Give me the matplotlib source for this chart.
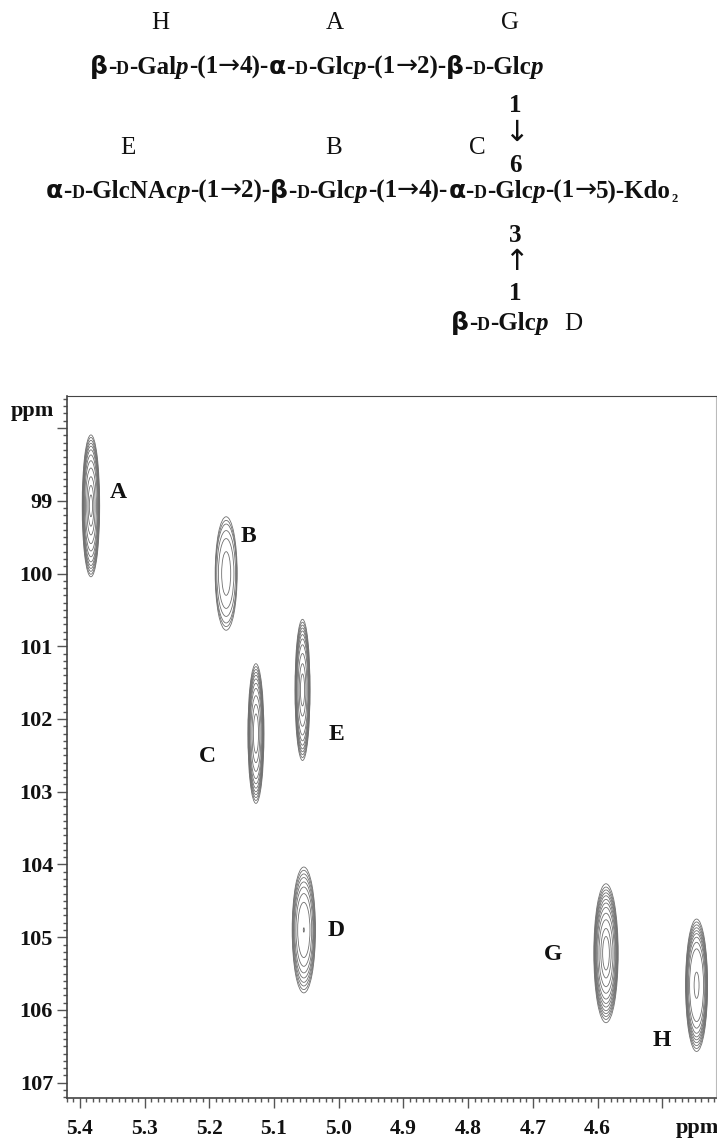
import matplotlib
matplotlib.use('Agg')
import matplotlib.pyplot as plt
from matplotlib.patches import Ellipse
from matplotlib.ticker import MultipleLocator

W, H = 717, 1140
SERIF = 'Liberation Serif'

# peak centres (1H ppm, 13C ppm)
peak_names = ['A', 'B', 'C', 'E', 'D', 'G', 'H']
peak_x = [5.383, 5.174, 5.128, 5.056, 5.054, 4.587, 4.447]
peak_y = [99.07, 100.0, 102.2, 101.6, 104.9, 105.22, 105.66]

# contour rings, half height (13C ppm) and half width (1H ppm), outer to inner
ring_h_A = [.975, .94, .90, .86, .82, .77, .70, .62, .52, .40, .28, .15]
ring_w_A = [.0135, .0131, .0127, .0123, .0119, .0114, .0108, .0100, .0085, .0065, .0045, .0025]
ring_h_B = [.78, .73, .68, .59, .48, .30]
ring_w_B = [.0170, .0165, .0160, .0145, .0120, .0070]
ring_h_C = [.96, .92, .88, .84, .80, .75, .69, .62, .52, .40, .27]
ring_w_C = [.0124, .0120, .0117, .0113, .0109, .0105, .0099, .0091, .0078, .0060, .0040]
ring_h_E = [.97, .93, .89, .85, .81, .76, .70, .62, .50, .36, .22]
ring_w_E = [.0116, .0113, .0110, .0106, .0102, .0098, .0092, .0084, .0070, .0052, .0032]
ring_h_D = [.865, .82, .77, .72, .66, .59, .50, .38, .03]
ring_w_D = [.0180, .0175, .0168, .0160, .0152, .0140, .0122, .0095, .0008]
ring_h_G = [.955, .91, .87, .83, .79, .74, .69, .63, .55, .46, .34, .23]
ring_w_G = [.0188, .0183, .0178, .0173, .0167, .0160, .0152, .0142, .0128, .0108, .0080, .0052]
ring_h_H = [.91, .87, .83, .79, .75, .71, .66, .59, .50, .18]
ring_w_H = [.0170, .0166, .0162, .0158, .0152, .0146, .0138, .0126, .0108, .0038]
ring_h = [ring_h_A, ring_h_B, ring_h_C, ring_h_E, ring_h_D, ring_h_G, ring_h_H]
ring_w = [ring_w_A, ring_w_B, ring_w_C, ring_w_E, ring_w_D, ring_w_G, ring_w_H]

x_ticks = [5.4, 5.3, 5.2, 5.1, 5.0, 4.9, 4.8, 4.7, 4.6, 4.5]
x_labels = ['5.4', '5.3', '5.2', '5.1', '5.0', '4.9', '4.8', '4.7', '4.6', '']
y_ticks = [98, 99, 100, 101, 102, 103, 104, 105, 106, 107]
y_labels = ['', '99', '100', '101', '102', '103', '104', '105', '106', '107']

fig = plt.figure(figsize=(W / 100, H / 100), dpi=100)
plt.rcParams['font.family'] = SERIF

# Axes in pixel terms
left, right, top, bottom = 67, 716, 396, 1098
ax = fig.add_axes([left / W, 1 - bottom / H, (right - left) / W, (bottom - top) / H])
ax.set_xlim(5.42, 4.417)
ax.set_ylim(107.21, 97.56)

for name, cx, cy, hs, ws in zip(peak_names, peak_x, peak_y, ring_h, ring_w):
    for h, w in zip(hs, ws):
        ax.add_patch(Ellipse((cx, cy), 2 * w, 2 * h, fill=False, ec='#707070', lw=0.6))

ax.set_xticks(x_ticks)
ax.set_xticklabels(x_labels, fontsize=15.5, fontweight='bold', family=SERIF, color='#111111')
ax.set_yticks(y_ticks)
ax.set_yticklabels(y_labels, fontsize=16, fontweight='bold', family=SERIF, color='#111111')
ax.xaxis.set_minor_locator(MultipleLocator(0.01))
ax.yaxis.set_minor_locator(MultipleLocator(0.1))
ax.tick_params(which='major', length=7, width=1.0, color='#555555')
ax.tick_params(axis='x', which='major', pad=8)
ax.tick_params(axis='y', which='major', pad=3)
ax.tick_params(which='minor', length=2.8, width=1.0, color='#555555')
for s in ['left', 'bottom']:
    ax.spines[s].set_linewidth(1.2)
    ax.spines[s].set_color('#444444')
ax.spines['top'].set_linewidth(0.8)
ax.spines['top'].set_color('#444444')
ax.spines['right'].set_linewidth(0.8)
ax.spines['right'].set_color('#bbbbbb')


def ftext(px, py, s, size=18, weight='normal', style='normal', family=SERIF):
    return fig.text(px / W, 1 - py / H, s, fontsize=size, fontweight=weight, fontstyle=style,
                    ha='center', va='center', family=family, color='#111111')


# Peak letters and axis captions
label_px = {'A': (118, 493), 'B': (248, 536), 'C': (207, 756), 'E': (336, 734),
            'D': (336, 931), 'G': (553, 954), 'H': (662, 1041)}
for name in peak_names:
    ftext(label_px[name][0], label_px[name][1], name, size=17, weight='bold')
ftext(32, 411, 'ppm', size=16, weight='bold')
ftext(697, 1128, 'ppm', size=16, weight='bold')


# Draw a run of differently styled pieces one after another
def runs(px, py, parts):
    rend = fig.canvas.get_renderer()
    x = px
    for s, kind in parts:
        size, weight, style, dy, fam = 18, 'bold', 'normal', 0, SERIF
        if kind == 'i':
            style = 'italic'
        elif kind == 'sc':
            size = 13
        elif kind == 'g':
            size, weight, fam = 18, 'bold', 'DejaVu Sans'
        elif kind == 'sub':
            size, dy = 9, 4
        elif kind == 'ar':
            weight, fam, size = 'normal', 'DejaVu Sans', 19
        t = fig.text(x / W, 1 - (py + dy) / H, s, fontsize=size, fontweight=weight, fontstyle=style,
                     ha='left', va='baseline', family=fam, color='#111111')
        x += t.get_window_extent(rend).width


line1 = [('β', 'g'), ('-', 'b'), ('D', 'sc'), ('-Gal', 'b'), ('p', 'i'), ('-(1', 'b'), ('→', 'ar'), ('4)-', 'b'),
         ('α', 'g'), ('-', 'b'), ('D', 'sc'), ('-Glc', 'b'), ('p', 'i'), ('-(1', 'b'), ('→', 'ar'), ('2)-', 'b'),
         ('β', 'g'), ('-', 'b'), ('D', 'sc'), ('-Glc', 'b'), ('p', 'i')]
line2 = [('α', 'g'), ('-', 'b'), ('D', 'sc'), ('-GlcNAc', 'b'), ('p', 'i'), ('-(1', 'b'), ('→', 'ar'), ('2)-', 'b'),
         ('β', 'g'), ('-', 'b'), ('D', 'sc'), ('-Glc', 'b'), ('p', 'i'), ('-(1', 'b'), ('→', 'ar'), ('4)-', 'b'),
         ('α', 'g'), ('-', 'b'), ('D', 'sc'), ('-Glc', 'b'), ('p', 'i'), ('-(1', 'b'), ('→', 'ar'), ('5)-Kdo', 'b'),
         ('2', 'sub')]
line3 = [('β', 'g'), ('-', 'b'), ('D', 'sc'), ('-Glc', 'b'), ('p', 'i')]
fig.canvas.draw()
runs(90, 74, line1)
runs(46, 198, line2)
runs(451, 330, line3)

# Residue letters above the sequences
for s, px, py in [('H', 160, 23), ('A', 335, 23), ('G', 510, 23), ('E', 128, 148), ('B', 334, 148),
                  ('C', 477, 148), ('D', 573, 324)]:
    ftext(px, py, s)
for s, py in [('1', 105), ('6', 166), ('3', 235), ('1', 293)]:
    ftext(515, py, s, weight='bold')
ftext(516, 133, '↓', size=21, family='DejaVu Sans')
ftext(516, 262, '↑', size=21, family='DejaVu Sans')

fig.savefig('out.png', dpi=100)
